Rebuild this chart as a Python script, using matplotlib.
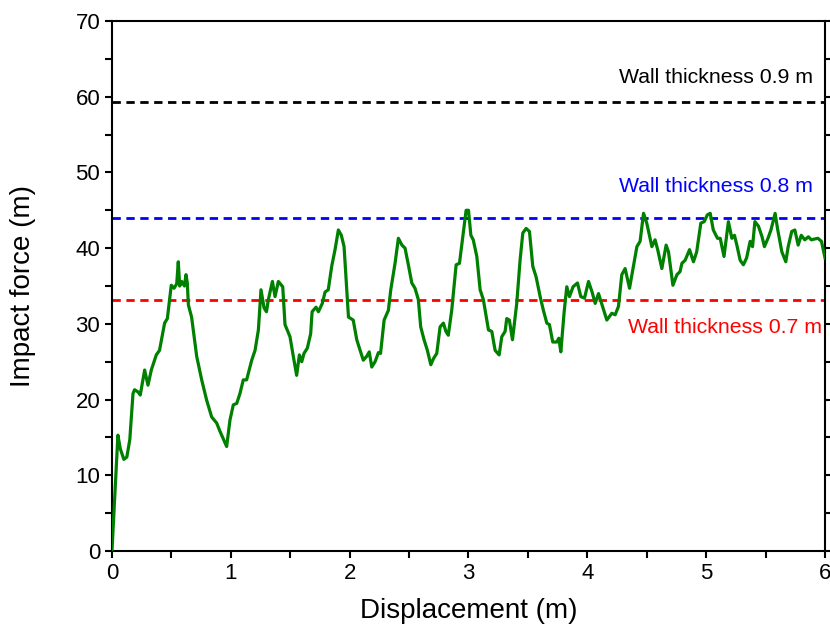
import matplotlib
matplotlib.use("Agg")
import matplotlib.pyplot as plt
from matplotlib.ticker import MultipleLocator

plt.rcParams['font.family'] = ['Liberation Sans', 'DejaVu Sans']

disp = [0.0, 0.05, 0.07, 0.10, 0.125, 0.15, 0.177, 0.19, 0.22, 0.238, 0.275, 0.303, 0.331, 0.373, 0.40,
        0.443, 0.466, 0.499, 0.522, 0.545, 0.558, 0.57, 0.587, 0.61, 0.623, 0.634, 0.643, 0.67, 0.713,
        0.755, 0.797, 0.839, 0.881, 0.909, 0.965, 0.993, 1.021, 1.05, 1.077, 1.105, 1.133, 1.176, 1.204,
        1.232, 1.254, 1.28, 1.30, 1.316, 1.35, 1.372, 1.40, 1.437, 1.456, 1.498, 1.526, 1.554, 1.577,
        1.597, 1.616, 1.644, 1.672, 1.684, 1.717, 1.737, 1.77, 1.793, 1.82, 1.849, 1.877, 1.905, 1.93,
        1.953, 1.99, 2.03, 2.06, 2.088, 2.115, 2.143, 2.165, 2.186, 2.214, 2.242, 2.26, 2.29, 2.326,
        2.346, 2.382, 2.41, 2.44, 2.466, 2.494, 2.523, 2.55, 2.578, 2.598, 2.626, 2.654, 2.683, 2.705,
        2.733, 2.761, 2.789, 2.81, 2.83, 2.859, 2.896, 2.924, 2.952, 2.98, 3.0, 3.02, 3.04, 3.07, 3.098,
        3.125, 3.168, 3.196, 3.224, 3.258, 3.28, 3.308, 3.322, 3.344, 3.37, 3.406, 3.434, 3.457, 3.485,
        3.513, 3.541, 3.569, 3.603, 3.63, 3.659, 3.681, 3.709, 3.743, 3.76, 3.777, 3.805, 3.827, 3.85,
        3.88, 3.917, 3.945, 3.976, 4.01, 4.04, 4.066, 4.094, 4.12, 4.164, 4.206, 4.234, 4.262, 4.29,
        4.318, 4.355, 4.388, 4.417, 4.444, 4.473, 4.50, 4.543, 4.57, 4.592, 4.627, 4.663, 4.683, 4.72,
        4.754, 4.78, 4.796, 4.823, 4.86, 4.893, 4.92, 4.955, 4.983, 5.01, 5.034, 5.06, 5.095, 5.118,
        5.15, 5.187, 5.216, 5.238, 5.258, 5.286, 5.313, 5.34, 5.37, 5.39, 5.41, 5.44, 5.47, 5.49, 5.52,
        5.545, 5.58, 5.60, 5.637, 5.67, 5.69, 5.72, 5.746, 5.774, 5.80, 5.83, 5.86, 5.885, 5.91, 5.94,
        5.97, 6.0]
force = [0.0, 15.3, 13.5, 12.1, 12.4, 14.7, 20.8, 21.3, 21.0, 20.6, 23.9, 21.9, 23.9, 25.9, 26.5,
         30.1, 30.7, 35.1, 34.7, 35.3, 38.2, 35.0, 35.6, 35.0, 36.5, 35.4, 32.5, 30.9, 25.7,
         22.6, 19.9, 17.7, 16.9, 15.8, 13.8, 17.3, 19.3, 19.5, 20.8, 22.6, 22.6, 25.2, 26.5,
         29.2, 34.5, 32.1, 31.6, 33.2, 35.6, 33.6, 35.6, 34.9, 29.9, 28.3, 25.7, 23.2, 25.9,
         25.0, 26.1, 26.8, 28.7, 31.6, 32.2, 31.6, 32.7, 34.2, 34.5, 37.6, 39.8, 42.4, 41.7,
         40.2, 30.9, 30.5, 27.9, 26.5, 25.2, 25.7, 26.3, 24.3, 25.0, 26.2, 26.1, 30.5, 31.8,
         34.5, 38.0, 41.3, 40.4, 40.0, 37.8, 35.4, 34.7, 33.2, 29.6, 27.9, 26.5, 24.6, 25.4,
         26.1, 29.6, 30.1, 29.0, 28.5, 31.8, 37.8, 38.0, 41.5, 45.0, 45.0, 41.7, 41.1, 38.9, 34.5,
         33.2, 29.2, 29.0, 26.5, 25.9, 28.3, 29.0, 30.7, 30.5, 27.9, 32.7, 38.4, 42.0, 42.6,
         42.2, 37.6, 36.2, 33.6, 31.8, 30.1, 29.9, 27.6, 27.6, 28.1, 26.3, 31.6, 34.9, 33.6,
         34.9, 35.4, 33.6, 33.4, 35.6, 34.2, 32.7, 34.0, 32.7, 30.5, 31.4, 31.2, 32.3, 36.5,
         37.3, 34.7, 37.6, 40.2, 40.9, 44.6, 43.3, 40.2, 41.1, 39.8, 37.3, 40.4, 39.5, 35.1,
         36.5, 36.9, 38.0, 38.4, 39.8, 38.2, 39.5, 43.3, 43.5, 44.4, 44.6, 42.4, 41.3, 41.3,
         38.9, 43.5, 41.3, 41.7, 40.4, 38.4, 37.8, 38.7, 40.9, 40.2, 43.5, 42.9, 41.5, 40.2, 41.3,
         42.4, 44.6, 42.6, 39.5, 38.2, 40.2, 42.2, 42.4, 40.4, 41.7, 41.1, 41.5, 41.1, 41.2, 41.3,
         40.9, 38.7]

thresholds = [59.3, 44.0, 33.1]
threshold_colors = ['black', '#0000ff', '#ff0000']
threshold_labels = ['Wall thickness 0.9 m', 'Wall thickness 0.8 m', 'Wall thickness 0.7 m']
label_pos = [(5.90, 62.5), (5.90, 48.2), (5.975, 29.5)]

fig = plt.figure(figsize=(8.3, 6.31), dpi=100)
ax = fig.add_axes([0.1349, 0.1268, 0.994 - 0.1349, 0.9667 - 0.1268])

for val, col in zip(thresholds, threshold_colors):
    ax.plot([0, 6], [val, val], color=col, lw=2.0, linestyle=(0, (3, 2)), zorder=2)

ax.plot(disp, force, color='#008000', lw=2.3, zorder=3)

for (tx, ty), txt, col in zip(label_pos, threshold_labels, threshold_colors):
    ax.text(tx, ty, txt, color=col, fontsize=15.3, ha='right', va='center')

ax.set_xlim(0, 6)
ax.set_ylim(0, 70)
ax.xaxis.set_major_locator(MultipleLocator(1))
ax.xaxis.set_minor_locator(MultipleLocator(0.5))
ax.yaxis.set_major_locator(MultipleLocator(10))
ax.yaxis.set_minor_locator(MultipleLocator(5))
ax.tick_params(which='both', direction='out', length=5, width=1.5, labelsize=16,
               right=True, top=False)
ax.tick_params(axis='x', pad=4)
for sp in ax.spines.values():
    sp.set_linewidth(1.5)

ax.set_xlabel('Displacement (m)', fontsize=20, labelpad=10)
ax.set_ylabel('Impact force (m)', fontsize=20, labelpad=28)

fig.savefig('out.png', dpi=100)
